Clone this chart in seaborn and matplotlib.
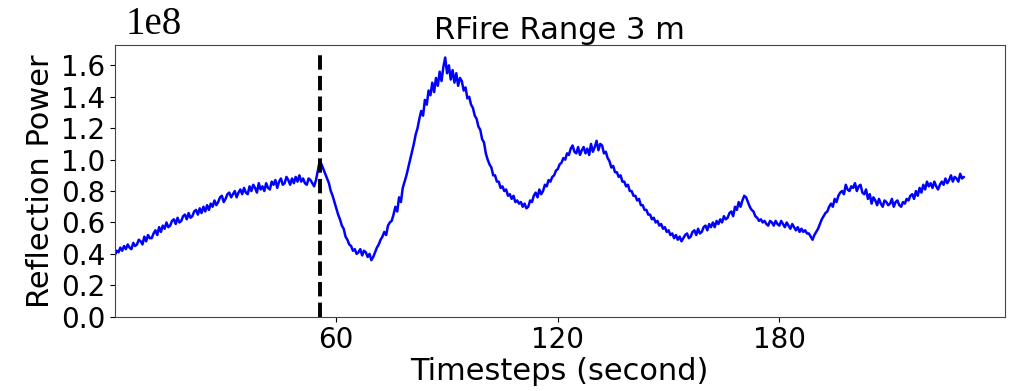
import numpy as np
import pandas as pd
import seaborn as sns
import matplotlib.pyplot as plt

# reflection power, in units of 1e6, one sample every 0.5 s
power_e6 = [
    39, 42, 41, 44, 42, 45, 43, 46, 44, 43, 47, 45, 46, 49, 48, 46, 51, 48, 52, 50,
    50, 53, 55, 52, 57, 54, 58, 56, 60, 57, 58, 61, 62, 59, 63, 60, 61, 64, 65, 62,
    66, 63, 64, 67, 68, 65, 69, 66, 70, 67, 71, 68, 72, 70, 74, 71, 73, 76, 77, 73,
    75, 78, 79, 76, 78, 80, 76, 79, 81, 78, 82, 79, 78, 83, 80, 84, 82, 79, 85, 81,
    83, 80, 85, 82, 81, 86, 84, 87, 82, 86, 88, 84, 85, 89, 87, 84, 88, 85, 89, 86,
    90, 86, 88, 85, 84, 88, 87, 85, 83, 87,
    93, 99,
    97, 94, 91, 88, 85, 80, 77, 73,
    69, 65, 62, 58, 56, 51, 49, 46, 45, 42, 43, 40, 41, 43, 39, 42, 41, 38, 40, 36,
    38, 41, 44, 46, 49, 51, 54, 52, 58, 60, 61, 65, 70, 67, 76, 73, 82, 86, 90, 95,
    100, 105, 110, 116, 120, 126, 131, 128, 138, 135, 144, 141, 149, 143, 152, 147, 156, 150, 159, 165,
    155, 160, 151, 157, 149, 155, 147, 152, 150, 144, 146, 139, 140, 135, 133, 128, 126, 121, 119, 113,
    111, 104, 100, 97, 95, 90, 90, 86, 86, 82, 83, 80, 81, 77, 78, 75, 77, 73, 74, 72,
    73, 70, 72, 69, 70, 74, 73, 77, 79, 76, 81, 78, 80, 84, 83, 87, 86, 89, 90, 93,
    94, 97, 98, 101, 100, 104, 103, 107, 109, 105, 104, 108, 103, 106, 108, 104, 107, 103, 110, 105,
    108, 112, 106, 110, 109, 104, 105, 101, 99, 95, 96, 92, 92, 89, 90, 86, 86, 83, 84, 80,
    80, 77, 77, 74, 75, 71, 71, 68, 68, 65, 65, 62, 63, 60, 61, 58, 59, 56, 57, 54,
    55, 52, 53, 50, 52, 49, 51, 48, 50, 52, 53, 50, 51, 54, 55, 52, 56, 53, 54, 57,
    58, 55, 59, 57, 60, 57, 61, 59, 62, 60, 64, 62, 63, 66, 67, 64, 70, 68, 73, 70,
    74, 77, 76, 73, 70, 68, 67, 64, 63, 61, 62, 60, 61, 59, 58, 61, 60, 58, 61, 59,
    58, 61, 59, 57, 60, 58, 56, 59, 57, 55, 57, 54, 56, 54, 55, 53, 53, 51, 49, 52,
    54, 56, 59, 62, 64, 66, 67, 70, 72, 70, 75, 73, 77, 79, 80, 78, 84, 81, 80, 83,
    82, 85, 80, 83, 84, 79, 78, 81, 75, 78, 72, 76, 74, 71, 75, 72, 70, 74, 73, 71,
    72, 75, 70, 73, 74, 71, 70, 73, 72, 75, 74, 77, 78, 75, 80, 77, 82, 79, 84, 81,
    86, 83, 85, 82, 86, 83, 81, 84, 86, 84, 88, 85, 87, 90, 86, 89, 88, 86, 91, 88,
    89,
]
timesteps = np.arange(len(power_e6)) * 0.5
event_time = 55.7
xticks = [60, 120, 180]

df = pd.DataFrame({"t": timesteps, "power": np.array(power_e6) * 1e6})

sns.set_style("ticks")
plt.rcParams["font.family"] = ["DejaVu Sans"]
plt.rcParams["text.color"] = "black"
plt.rcParams["axes.labelcolor"] = "black"
plt.rcParams["xtick.color"] = "black"
plt.rcParams["ytick.color"] = "black"

fig = plt.figure(figsize=(10.25, 3.91), dpi=100)
ax = fig.add_axes([0.112, 0.19, 0.868, 0.695])

sns.lineplot(data=df, x="t", y="power", color="blue", linewidth=1.8, ax=ax)
ax.vlines(event_time, 0, 1.69e8, colors="black", linestyles="--", linewidth=2.8)

ax.set_xlim(0, 241)
ax.set_ylim(0, 1.73e8)
ax.set_xticks(xticks)
ax.set_yticks(np.arange(0, 1.7e8, 0.2e8))
ax.tick_params(labelsize=20)
ax.set_xlabel("Timesteps (second)", fontsize=22, labelpad=2)
ax.set_ylabel("Reflection Power", fontsize=22, labelpad=4)
ax.set_title("RFire Range 3 m", fontsize=22, pad=4)

off = ax.yaxis.get_offset_text()
off.set_fontsize(28)
off.set_family("Liberation Serif")
off.set_x(0.012)
ax.yaxis.OFFSETTEXTPAD = 8

for s in ax.spines.values():
    s.set_color("#444444")

fig.savefig("out.png", dpi=100)
